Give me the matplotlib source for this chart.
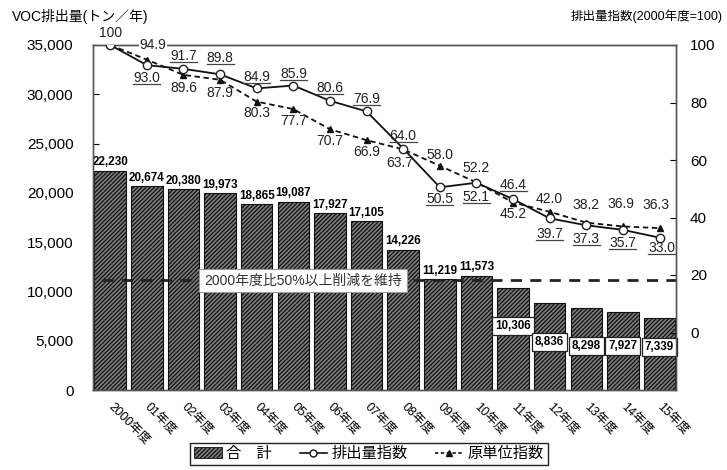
import numpy as np
import matplotlib
matplotlib.use('Agg')
import matplotlib.pyplot as plt
from matplotlib.lines import Line2D
from matplotlib.patches import Patch

plt.rcParams['font.family'] = ['Liberation Sans', 'Noto Sans CJK JP']
plt.rcParams['hatch.linewidth'] = 0.9

# fiscal years and VOC emissions (t/year)
years = ['2000年度', '01年度', '02年度', '03年度', '04年度', '05年度', '06年度', '07年度',
         '08年度', '09年度', '10年度', '11年度', '12年度', '13年度', '14年度', '15年度']
emission = [22230, 20674, 20380, 19973, 18865, 19087, 17927, 17105,
            14226, 11219, 11573, 10306, 8836, 8298, 7927, 7339]

# indices (2000 = 100)
emission_idx = [100, 93.0, 91.7, 89.8, 84.9, 85.9, 80.6, 76.9,
                64.0, 50.5, 52.1, 46.4, 39.7, 37.3, 35.7, 33.0]
intensity_idx = [100, 94.9, 89.6, 87.9, 80.3, 77.7, 70.7, 66.9,
                 63.7, 58.0, 52.2, 45.2, 42.0, 38.2, 36.9, 36.3]

target = emission[0] * 0.5

# label placement (pixel offsets from the point)
emis_off = [(0, 12), (0, -13), (0, 13), (0, 16), (0, 11), (0, 12), (0, 13), (0, 12),
            (0, 13), (0, -12), (0, -14), (0, 14), (0, -16), (0, -14), (0, -13), (2, -10)]
inten_off = [None, (6, 15), (0, -13), (0, -13), (0, -11), (0, -12), (0, -12), (0, -12),
             (-3, -14), (0, 11), (0, 14), (0, -11), (0, 13), (0, 18), (-2, 22), (-4, 23)]
# the last five bar labels sit inside the bars
inner_label_y = [6500, 4870, 4460, 4460, 4380]

bar_face = '#7c7c7c'
bar_edge = '#111111'

fig = plt.figure(figsize=(7.27, 4.70), dpi=100)
ax = fig.add_axes([93 / 727, 1 - 390 / 470, (676 - 93) / 727, (390 - 45) / 470])
ax2 = ax.twinx()

x = np.arange(len(years))
ax.bar(x, emission, width=0.86, facecolor=bar_face, edgecolor=bar_edge,
       hatch='////////', linewidth=0.8, zorder=2)

ax.set_xlim(-0.47, 15.45)
ax.set_ylim(0, 35000)
ax.set_yticks(np.arange(0, 35001, 5000))
ax.set_yticklabels([f'{v:,}' for v in range(0, 35001, 5000)], fontsize=11)
ax.set_xticks(x)
ax.set_xticklabels(years, rotation=-45, rotation_mode='anchor', ha='left', va='center',
                   fontsize=9)
ax.tick_params(axis='x', length=0, pad=11)
ax.tick_params(axis='y', direction='in', length=4, pad=14)

ax2.set_ylim(-20, 100)
ax2.set_yticks([0, 20, 40, 60, 80, 100])
ax2.tick_params(axis='y', direction='in', length=4, pad=10, labelsize=11)

for a in (ax, ax2):
    for s in a.spines.values():
        s.set_color('#555555')
        s.set_linewidth(1.0)

# bar value labels
for i, v in enumerate(emission):
    if i < 11:
        ax.text(i, v + 250, f'{v:,}', ha='center', va='bottom', fontsize=8.4,
                fontweight='bold', zorder=5)
    else:
        ax.text(i, inner_label_y[i - 11], f'{v:,}', ha='center', va='center',
                fontsize=8.4, fontweight='bold', zorder=5,
                bbox=dict(boxstyle='square,pad=0.25', fc='white', ec='#222222', lw=0.9))

# 50% reduction line
ax.plot([-0.22, 15.45], [target, target], color='#222222', lw=2.0, ls=(0, (4, 3)), zorder=4)
ax.text(5.27, target, '2000年度比50%以上削減を維持', ha='center', va='center', fontsize=10,
        color='#333333', zorder=6,
        bbox=dict(boxstyle='square,pad=0.35', fc='white', ec='#999999', lw=0.8))

# index lines
ax2.plot(x, intensity_idx, color='#111111', lw=1.3, ls=(0, (3, 2)), marker='^',
         markersize=5, markerfacecolor='#111111', zorder=3)
ax2.plot(x, emission_idx, color='#111111', lw=1.3, marker='o', markersize=6,
         markerfacecolor='white', markeredgecolor='#222222', zorder=4)

px = 72 / fig.dpi
underline_texts = []
for i, v in enumerate(emission_idx):
    dx, dy = emis_off[i]
    lbl = '100' if i == 0 else f'{v:.1f}'
    t = ax2.annotate(lbl, (i, v), xytext=(dx * px, dy * px), textcoords='offset points',
                     ha='center', va='center', fontsize=10, color='#222222',
                     annotation_clip=False, zorder=7)
    if i > 0:
        underline_texts.append(t)
for i, v in enumerate(intensity_idx):
    if inten_off[i] is None:
        continue
    dx, dy = inten_off[i]
    ax2.annotate(f'{v:.1f}', (i, v), xytext=(dx * px, dy * px), textcoords='offset points',
                 ha='center', va='center', fontsize=10, color='#222222', zorder=7,
                 bbox=dict(boxstyle='square,pad=0.05', fc='white', ec='none') if i == 1 else None)

# underline the emission index labels
fig.canvas.draw()
inv = fig.transFigure.inverted()
for t in underline_texts:
    bb = t.get_window_extent()
    (x0, y0), (x1, _) = inv.transform([[bb.x0, bb.y0 + 1], [bb.x1, bb.y0 + 1]])
    fig.add_artist(Line2D([x0, x1], [y0, y0], color='#444444', lw=0.9))

# axis titles
fig.text(12 / 727, 1 - 16 / 470, 'VOC排出量(トン／年)', fontsize=10, ha='left', va='center')
fig.text(723 / 727, 1 - 16 / 470, '排出量指数(2000年度=100)', fontsize=9, ha='right',
         va='center')

handles = [
    Patch(facecolor=bar_face, edgecolor=bar_edge, hatch='////////', linewidth=0.6),
    Line2D([], [], color='#111111', lw=1.2, marker='o', markersize=5, markerfacecolor='white'),
    Line2D([], [], color='#111111', lw=1.2, ls=(0, (2, 1.5)), marker='^', markersize=4),
]
fig.legend(handles, ['合　計', '排出量指数', '原単位指数'], loc='center',
           bbox_to_anchor=(369 / 727, 1 - 454 / 470), ncol=3, fontsize=11, frameon=True,
           fancybox=False, edgecolor='#222222', handlelength=1.8, handletextpad=0.3,
           columnspacing=1.8, borderpad=0.25, framealpha=1)

fig.savefig('out.png', dpi=100)
